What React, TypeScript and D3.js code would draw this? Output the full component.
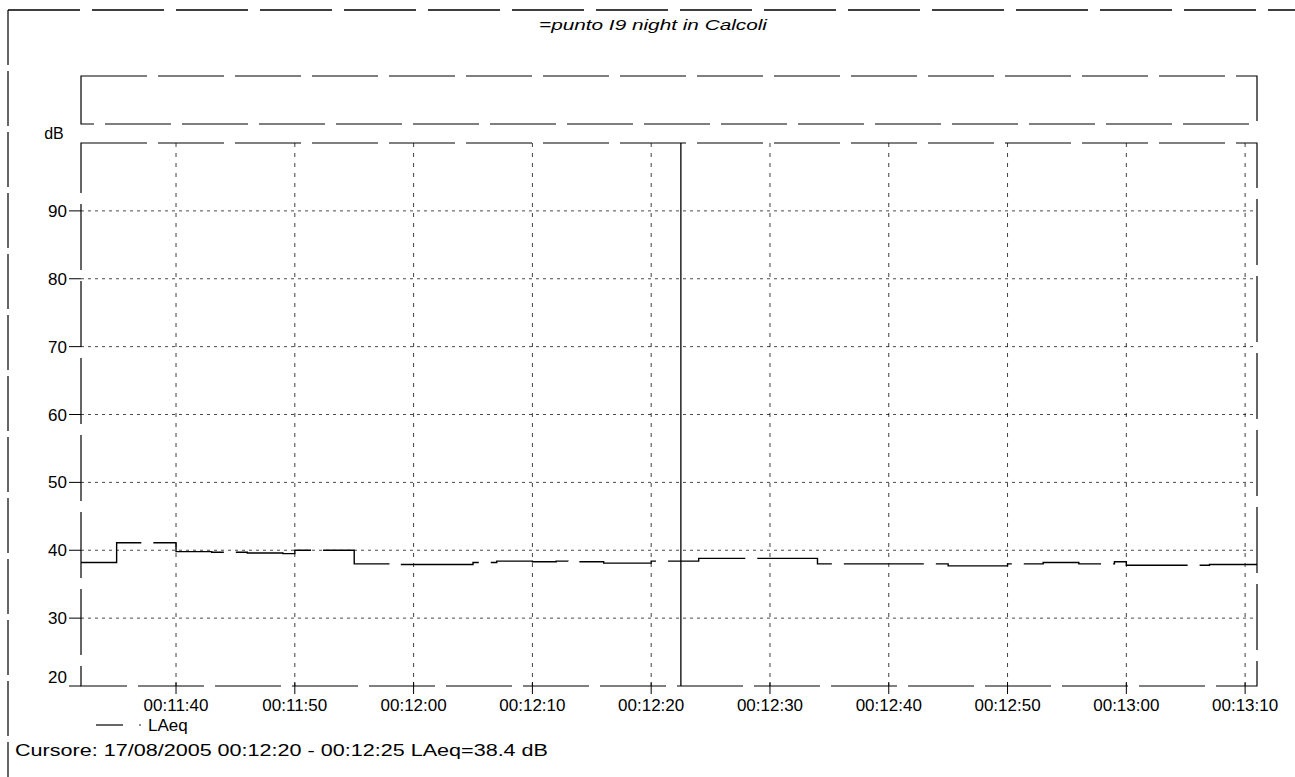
import React from "react";
import * as d3 from "d3";

const TITLE = "=punto I9 night in Calcoli";
const Y_UNIT = "dB";
const SERIES_NAME = "LAeq";
const CURSOR_TEXT = "Cursore: 17/08/2005 00:12:20 - 00:12:25  LAeq=38.4 dB";
const CURSOR_FROM = "00:12:20";
const CURSOR_TO = "00:12:25";

const X_START = "00:11:32";
const X_END = "00:13:11";
const X_TICKS = ["00:11:40", "00:11:50", "00:12:00", "00:12:10", "00:12:20", "00:12:30", "00:12:40", "00:12:50", "00:13:00", "00:13:10"];
const Y_TICKS = [20, 30, 40, 50, 60, 70, 80, 90];
const Y_MIN = 20;
const Y_MAX = 100;

const STEP_TIMES = [
  "00:11:32", "00:11:35", "00:11:40", "00:11:43", "00:11:46", "00:11:49", "00:11:50", "00:11:55",
  "00:11:58", "00:12:05", "00:12:07", "00:12:10", "00:12:12", "00:12:13", "00:12:16", "00:12:20",
  "00:12:24", "00:12:34", "00:12:45", "00:12:50", "00:12:53", "00:12:56", "00:12:59", "00:13:00",
  "00:13:07",
];
const LAEQ = [
  38.2, 41.1, 39.8, 39.7, 39.6, 39.5, 40.0, 38.0,
  37.9, 38.2, 38.4, 38.3, 38.4, 38.3, 38.1, 38.4,
  38.8, 38.0, 37.7, 38.0, 38.2, 38.0, 38.3, 37.8,
  37.9,
];

const parseT = (s: string) => {
  const [h, m, sec] = s.split(":").map(Number);
  return new Date(2005, 7, 17, h, m, 0, sec * 1000);
};

const W = 1295;
const H = 777;
const PL = 81;
const PR = 1257;
const PT = 143;
const PB = 686;

export default function App() {
  const x = d3.scaleTime().domain([parseT(X_START), parseT(X_END)]).range([PL, PR]);
  const y = d3.scaleLinear().domain([Y_MIN, Y_MAX]).range([PB, PT]);

  const pts: [Date, number][] = STEP_TIMES.map((t, i) => [parseT(t), LAEQ[i]]);
  pts.push([parseT(X_END), LAEQ[LAEQ.length - 1]]);
  const line = d3
    .line<[Date, number]>()
    .x((d) => x(d[0]))
    .y((d) => y(d[1]))
    .curve(d3.curveStepAfter);

  const cursorX = x(new Date((parseT(CURSOR_FROM).getTime() + parseT(CURSOR_TO).getTime()) / 2));
  const font = "'Liberation Sans', Arial, sans-serif";
  const frameDash = "66,11";

  return (
    <div style={{ position: "absolute", left: 0, top: 0 }}>
      <svg width={W} height={H} style={{ display: "block", background: "#fff" }} fontFamily={font}>
        {/* outer frame */}
        <line x1={8} y1={10} x2={W} y2={10} stroke="#000" strokeWidth={1.3} strokeDasharray="72,12" />
        <line x1={8} y1={10} x2={8} y2={H} stroke="#000" strokeWidth={1.2} strokeDasharray="55,6" />

        <text x={653} y={30} textAnchor="middle" fontSize={15} fontStyle="italic" textLength={228} lengthAdjust="spacingAndGlyphs">
          {TITLE}
        </text>

        {/* upper empty box */}
        <rect x={PL} y={76} width={PR - PL} height={48} fill="none" stroke="#000" strokeWidth={1.2} strokeDasharray={frameDash} />

        <text x={54} y={139} textAnchor="middle" fontSize={16}>{Y_UNIT}</text>

        {/* horizontal grid */}
        {Y_TICKS.filter((v) => v > Y_MIN).map((v) => (
          <line key={"hg" + v} x1={PL} x2={PR} y1={y(v)} y2={y(v)} stroke="#000" strokeWidth={1} strokeDasharray="3,4" opacity={0.7} />
        ))}
        {/* vertical grid */}
        {X_TICKS.map((t) => (
          <line key={"vg" + t} x1={x(parseT(t))} x2={x(parseT(t))} y1={PT} y2={PB} stroke="#000" strokeWidth={1} strokeDasharray="4,6" opacity={0.75} />
        ))}

        {/* plot frame */}
        <rect x={PL} y={PT} width={PR - PL} height={PB - PT} fill="none" stroke="#000" strokeWidth={1.2} strokeDasharray={frameDash} />

        {/* y ticks */}
        {Y_TICKS.map((v) => (
          <g key={"yt" + v}>
            <line x1={PL - 12} x2={PL} y1={y(v)} y2={y(v)} stroke="#000" strokeWidth={1} />
            <text x={PL - 14} y={v === Y_MIN ? y(v) - 3 : y(v) + 6} textAnchor="end" fontSize={17}>
              {v}
            </text>
          </g>
        ))}

        {/* x ticks */}
        {X_TICKS.map((t) => (
          <g key={"xt" + t}>
            <line x1={x(parseT(t))} x2={x(parseT(t))} y1={PB - 4} y2={PB + 8} stroke="#000" strokeWidth={1} />
            <text x={x(parseT(t))} y={711} textAnchor="middle" fontSize={17}>
              {t}
            </text>
          </g>
        ))}

        {/* cursor */}
        <line x1={cursorX} x2={cursorX} y1={PT} y2={PB} stroke="#000" strokeWidth={1.3} />

        {/* data */}
        <path d={line(pts) || ""} fill="none" stroke="#000" strokeWidth={1.4} strokeDasharray="80,12" />

        {/* legend */}
        <line x1={96} x2={123} y1={725} y2={725} stroke="#000" strokeWidth={1.2} />
        <circle cx={140} cy={725} r={0.8} fill="#000" />
        <text x={148} y={731} fontSize={17}>{SERIES_NAME}</text>

        <text x={15} y={756} fontSize={17} textLength={533} lengthAdjust="spacingAndGlyphs">{CURSOR_TEXT}</text>
      </svg>
    </div>
  );
}
